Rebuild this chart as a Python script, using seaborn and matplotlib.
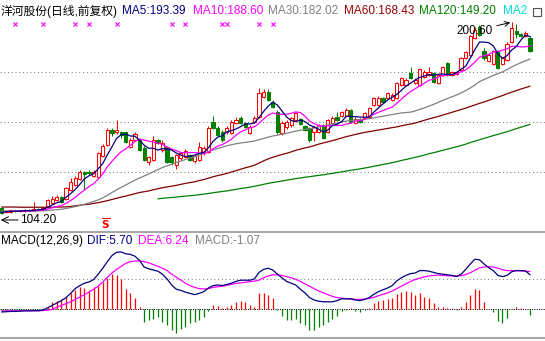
import numpy as np
import matplotlib
matplotlib.use("Agg")
import matplotlib.pyplot as plt
import seaborn as sns
from matplotlib.patches import Rectangle
from matplotlib import transforms

sns.set_theme(style="white")
plt.rcParams['font.family'] = ['Liberation Sans', 'Noto Sans CJK SC', 'DejaVu Sans']

# ---- daily bars (forward-adjusted) ----
opens = [107.1, 105.3, 105.4, 106.0, 105.5, 105.8, 106.2, 105.9, 106.8, 106.5,
         108.2, 109.7, 111.0, 112.7, 111.7, 116.3, 118.8, 121.8, 125.3, 125.3,
         123.3, 122.8, 133.4, 138.9, 146.4, 145.4, 145.4, 145.4, 137.9, 141.4,
         141.4, 137.4, 130.3, 131.3, 141.4, 136.4, 137.9, 132.8, 128.8, 132.3,
         132.8, 133.8, 130.8, 131.3, 134.9, 135.4, 150.4, 147.4, 145.4, 145.4,
         144.9, 149.9, 152.4, 149.9, 144.9, 150.4, 152.9, 162.9, 165.4, 160.4,
         155.4, 144.9, 147.9, 148.9, 151.4, 151.9, 148.4, 147.4, 145.4, 145.4,
         148.9, 145.4, 149.9, 152.9, 153.4, 153.4, 156.4, 150.0, 151.9, 152.4,
         152.9, 158.9, 158.9, 162.4, 162.4, 161.4, 162.4, 168.9, 168.9, 174.9,
         169.9, 168.9, 172.9, 173.9, 174.9, 169.9, 173.9, 179.9, 173.9, 174.4,
         176.4, 182.4, 183.9, 192.4, 198.4, 185.9, 180.9, 179.4, 185.9, 179.4,
         181.4, 190.4, 196.4, 194.9, 193.9, 192.6]
highs = [107.5, 106.3, 106.2, 106.4, 106.3, 106.5, 106.6, 110.2, 107.2, 107.6,
         111.6, 113.0, 113.5, 113.2, 117.9, 122.3, 123.3, 126.3, 125.8, 126.3,
         126.3, 135.4, 139.4, 147.4, 147.4, 151.4, 145.9, 145.9, 142.4, 145.4,
         142.4, 138.4, 133.3, 143.4, 141.9, 141.4, 138.4, 133.3, 134.4, 135.4,
         136.9, 134.4, 134.4, 140.4, 138.4, 148.4, 153.4, 148.4, 146.4, 148.4,
         151.4, 152.9, 153.4, 150.4, 148.9, 153.4, 167.4, 166.9, 166.9, 161.4,
         156.4, 150.9, 151.4, 152.9, 155.4, 152.4, 148.9, 147.9, 148.4, 149.4,
         149.4, 151.9, 153.4, 155.4, 155.9, 157.4, 156.9, 152.9, 152.4, 155.4,
         157.9, 162.9, 163.4, 162.9, 165.4, 164.9, 170.4, 172.9, 172.4, 177.9,
         172.4, 177.4, 176.4, 177.9, 175.4, 174.4, 178.4, 180.4, 175.9, 175.9,
         182.9, 185.9, 194.4, 198.4, 199.4, 187.4, 184.4, 186.4, 186.4, 182.9,
         190.4, 200.6, 199.9, 195.4, 196.4, 193.4]
lows = [104.2, 104.8, 104.9, 105.1, 105.2, 105.4, 105.6, 105.7, 106.2, 106.2,
        107.8, 109.4, 110.6, 109.8, 111.3, 116.0, 118.5, 121.5, 116.3, 124.0,
        123.0, 122.5, 132.9, 138.4, 143.4, 144.4, 142.4, 139.9, 137.4, 140.9,
        135.9, 130.8, 128.8, 130.8, 139.4, 135.4, 129.8, 128.8, 126.8, 131.3,
        132.3, 130.8, 129.8, 130.8, 133.8, 134.9, 146.9, 143.4, 140.4, 144.4,
        144.4, 149.4, 149.4, 147.4, 144.4, 149.9, 152.4, 162.4, 160.9, 157.4,
        144.4, 143.9, 146.9, 147.9, 150.9, 148.9, 145.9, 140.4, 140.9, 144.9,
        141.9, 144.9, 149.4, 150.9, 152.9, 152.9, 149.9, 149.4, 149.9, 151.9,
        152.4, 158.4, 158.4, 159.9, 161.9, 160.9, 161.9, 168.4, 168.4, 171.9,
        169.4, 168.4, 172.4, 173.4, 169.9, 169.4, 173.4, 173.4, 173.4, 173.9,
        175.9, 181.9, 183.4, 191.9, 193.4, 181.4, 180.4, 178.9, 176.9, 178.9,
        180.9, 189.9, 192.6, 193.1, 193.1, 185.6]
closes = [104.9, 105.8, 106.0, 105.5, 106.0, 106.2, 105.9, 106.8, 106.5, 107.3,
          111.2, 111.7, 112.6, 110.2, 117.3, 120.3, 122.3, 125.3, 124.3, 124.8,
          125.3, 134.9, 138.4, 146.4, 144.9, 146.4, 143.9, 140.4, 141.4, 144.4,
          136.4, 131.3, 132.8, 141.4, 139.9, 139.9, 130.3, 130.3, 133.8, 134.9,
          135.9, 131.3, 133.3, 137.9, 137.4, 147.4, 147.4, 143.9, 141.4, 147.4,
          150.4, 151.4, 149.9, 147.9, 147.9, 152.4, 164.9, 165.4, 161.4, 157.9,
          145.4, 149.9, 150.4, 152.4, 154.9, 149.4, 146.4, 141.4, 147.9, 148.9,
          142.4, 151.4, 152.4, 151.4, 155.4, 156.4, 150.4, 151.9, 150.4, 154.9,
          157.4, 162.4, 162.4, 160.4, 164.9, 163.9, 169.9, 172.4, 171.4, 172.4,
          171.4, 176.9, 175.4, 175.4, 170.4, 173.9, 177.9, 173.9, 175.4, 175.4,
          182.4, 185.4, 193.9, 196.9, 194.4, 182.4, 183.9, 185.9, 177.4, 182.4,
          189.45, 197.75, 194.6, 193.6, 195.0, 185.99]

# ---- long moving averages ----
ma30 = [105.7, 105.7, 105.7, 105.7, 105.7, 105.7, 105.7, 105.7, 105.8, 105.8,
        106.0, 106.2, 106.4, 106.6, 107.0, 107.4, 107.9, 108.5, 109.1, 109.8,
        110.5, 111.3, 112.3, 113.6, 115.0, 116.3, 117.6, 118.8, 120.0, 121.2,
        122.3, 123.3, 124.3, 125.5, 126.5, 127.6, 128.4, 129.2, 130.0, 130.8,
        131.6, 132.3, 133.0, 133.8, 134.7, 135.6, 136.4, 137.1, 137.8, 138.5,
        139.0, 139.5, 139.9, 140.2, 140.5, 140.9, 141.5, 142.2, 142.8, 143.4,
        143.8, 144.3, 144.8, 145.3, 145.8, 146.3, 146.7, 147.0, 147.4, 147.9,
        148.4, 148.9, 149.4, 149.9, 150.5, 150.9, 151.2, 151.4, 151.6, 151.8,
        152.1, 152.5, 152.9, 153.3, 153.8, 154.2, 154.6, 155.0, 155.2, 155.4,
        156.0, 156.8, 157.5, 158.4, 159.3, 160.3, 161.3, 162.2, 163.1, 164.0,
        165.0, 166.2, 167.5, 169.0, 170.7, 171.8, 172.8, 173.8, 174.7, 175.6,
        176.8, 178.1, 179.2, 180.2, 181.2, 182.02]
ma60 = [107.7, 107.7, 107.7, 107.7, 107.6, 107.6, 107.6, 107.6, 107.6, 107.6,
        107.6, 107.6, 107.7, 107.7, 107.8, 108.0, 108.3, 108.6, 108.9, 109.1,
        109.5, 109.9, 110.4, 110.9, 111.5, 112.1, 112.7, 113.2, 113.8, 114.4,
        115.0, 115.4, 115.8, 116.4, 116.9, 117.4, 117.8, 118.2, 118.6, 119.1,
        119.6, 120.0, 120.4, 121.0, 121.5, 122.2, 122.9, 123.5, 124.0, 124.6,
        125.3, 126.0, 126.7, 127.4, 128.0, 128.7, 129.8, 130.9, 131.9, 132.7,
        133.4, 134.1, 134.7, 135.4, 136.2, 136.8, 137.4, 137.9, 138.6, 139.3,
        139.9, 140.5, 141.1, 141.7, 142.4, 143.1, 143.6, 144.2, 144.7, 145.2,
        145.6, 146.0, 146.4, 146.8, 147.2, 147.6, 148.0, 148.5, 149.0, 149.4,
        149.9, 150.6, 151.3, 152.0, 152.6, 153.2, 153.9, 154.6, 155.3, 156.0,
        156.7, 157.4, 158.2, 159.0, 159.8, 160.5, 161.3, 162.1, 162.9, 163.7,
        164.6, 165.4, 166.2, 167.0, 167.7, 168.43]
ma120 = [np.nan] * 34 + [
        111.8, 112.1, 112.3, 112.5, 112.7, 113.0, 113.2, 113.4, 113.6, 113.9,
        114.2, 114.5, 114.9, 115.2, 115.5, 115.8, 116.2, 116.6, 117.0, 117.3,
        117.7, 118.1, 118.6, 119.1, 119.6, 120.0, 120.4, 120.8, 121.2, 121.6,
        122.0, 122.3, 122.7, 122.9, 123.3, 123.6, 123.9, 124.3, 124.6, 125.0,
        125.4, 125.8, 126.2, 126.5, 126.9, 127.3, 127.7, 128.2, 128.6, 129.1,
        129.5, 130.0, 130.5, 131.1, 131.6, 132.1, 132.7, 133.2, 133.8, 134.5,
        135.0, 135.6, 136.2, 136.8, 137.4, 138.0, 138.6, 139.3, 140.1, 140.8,
        141.5, 142.2, 142.9, 143.6, 144.2, 144.9, 145.5, 146.3, 147.1, 147.8,
        148.5, 149.2]

# ---- MACD(12,26,9) ----
dif = [-0.5, -0.45, -0.4, -0.4, -0.35, -0.3, -0.3, -0.27, -0.27, -0.2,
       0.2, 0.6, 1.0, 1.4, 1.9, 2.6, 3.4, 3.9, 4.3, 4.5,
       4.9, 5.8, 6.8, 7.9, 8.9, 9.45, 9.5, 9.2, 9.1, 8.8,
       8.1, 7.0, 6.7, 6.5, 6.3, 5.8, 5.0, 4.0, 3.3, 3.1,
       2.8, 2.6, 2.4, 2.6, 2.9, 3.5, 3.9, 4.0, 3.9, 4.1,
       4.3, 4.6, 4.8, 4.8, 4.8, 5.0, 6.1, 6.6, 6.8, 6.5,
       5.8, 5.2, 4.6, 4.3, 4.0, 3.3, 2.7, 1.9, 1.5, 1.3,
       1.2, 1.2, 1.2, 1.4, 1.7, 1.7, 1.7, 1.5, 1.4, 1.6,
       1.9, 2.45, 2.9, 3.2, 3.5, 3.9, 4.7, 5.2, 5.6, 5.9,
       6.0, 6.4, 6.4, 6.3, 6.1, 5.9, 5.8, 5.7, 5.6, 5.4,
       5.8, 6.6, 7.5, 8.3, 8.2, 7.5, 6.9, 6.4, 5.6, 5.4,
       5.6, 6.2, 6.4, 6.4, 6.35, 5.70]
dea = [-0.3, -0.3, -0.3, -0.3, -0.3, -0.3, -0.3, -0.3, -0.3, -0.25,
       -0.2, -0.05, 0.3, 0.6, 0.9, 1.2, 1.6, 2.0, 2.4, 2.8,
       3.3, 3.8, 4.5, 5.3, 6.0, 6.6, 7.1, 7.6, 7.9, 8.0,
       8.0, 7.9, 7.7, 7.4, 7.1, 6.8, 6.4, 5.8, 5.3, 4.8,
       4.3, 3.9, 3.6, 3.4, 3.35, 3.4, 3.6, 3.7, 3.8, 3.95,
       4.1, 4.25, 4.35, 4.45, 4.55, 4.65, 4.8, 5.2, 5.5, 5.7,
       5.7, 5.6, 5.4, 5.2, 4.95, 4.6, 4.2, 3.8, 3.4, 3.0,
       2.7, 2.4, 2.1, 1.9, 1.8, 1.7, 1.65, 1.6, 1.6, 1.65,
       1.75, 1.95, 2.2, 2.45, 2.7, 3.0, 3.4, 3.8, 4.2, 4.6,
       4.9, 5.15, 5.35, 5.5, 5.6, 5.65, 5.6, 5.55, 5.5, 5.5,
       5.55, 5.75, 6.05, 6.45, 6.85, 7.0, 7.05, 7.0, 6.8, 6.55,
       6.4, 6.4, 6.4, 6.35, 6.3, 6.24]
macd = [-0.4, -0.3, -0.2, -0.2, -0.1, 0.0, 0.0, 0.05, 0.05, 0.1,
        0.5, 1.1, 1.3, 1.6, 2.05, 2.7, 3.2, 3.6, 3.45, 3.2,
        3.7, 4.0, 4.55, 5.1, 5.8, 5.7, 4.95, 3.3, 2.6, 1.8,
        0.4, -2.1, -1.8, -1.6, -1.4, -2.1, -2.65, -3.5, -4.05, -3.4,
        -2.95, -2.4, -2.1, -1.8, -1.4, -0.4, 0.7, 0.55, 0.2, 0.4,
        0.7, 1.2, 1.4, 1.2, 0.7, 0.4, 2.6, 2.7, 2.3, 1.8,
        -0.2, -1.2, -1.8, -1.8, -1.7, -2.3, -2.7, -3.5, -3.5, -3.05,
        -2.7, -2.1, -1.7, -1.2, -0.3, -0.2, 0.1, -0.4, -0.5, -0.2,
        0.1, 1.0, 1.35, 1.45, 1.6, 1.8, 2.5, 2.9, 3.0, 2.9,
        2.3, 2.7, 2.05, 1.8, 1.0, 0.3, 0.4, 0.2, 0.1, -0.2,
        0.3, 1.2, 2.3, 3.3, 3.2, 1.2, 0.05, -0.5, -1.95, -2.3,
        -1.5, 0.05, 0.3, 0.15, 0.05, -1.07]

signal_bars = [3, 9, 16, 19, 25, 37, 40, 48, 49, 56, 59]

# ---- colours ----
RED = '#FF0000'
GREEN = '#008000'
NAVY = '#000080'
MAGENTA = '#FF00FF'
GRAY = '#808080'
MAROON = '#800000'
CYAN = '#00D8D8'

opens, highs, lows, closes = map(np.asarray, (opens, highs, lows, closes))
n = len(closes)
xs = np.arange(n)
ma5 = np.convolve(closes, np.ones(5) / 5, mode='full')[:n]
ma5[:4] = [closes[:k + 1].mean() for k in range(4)]
ma10 = np.convolve(closes, np.ones(10) / 10, mode='full')[:n]
ma10[:9] = [closes[:k + 1].mean() for k in range(9)]

W, H = 545, 341
fig = plt.figure(figsize=(W / 100, H / 100), dpi=100)
fig.patch.set_facecolor('white')


def panel(y_top, y_bot):
    a = fig.add_axes([0, 1 - y_bot / H, 1, (y_bot - y_top) / H])
    a.set_facecolor('none')
    a.set_axis_off()
    return a


step = 4.594          # pixels per bar
x0 = 1.7              # pixel centre of the first bar
xlim = (-x0 / step, (W - x0) / step)

# ---------------- price panel ----------------
ax = panel(0, 231)
ax.set_xlim(*xlim)
ax.set_ylim(95.66, 211.74)

for lvl in (125.3, 150.4, 175.6):
    ax.axhline(lvl, color=GRAY, lw=0.75, ls=(0, (1, 2.6)), zorder=1)

w = 0.7
for i in range(n):
    o, h, l, c = opens[i], highs[i], lows[i], closes[i]
    if c >= o:
        ax.add_patch(Rectangle((i - w / 2, o), w, max(c - o, 0.05), facecolor='white',
                               edgecolor=RED, lw=0.75, zorder=3))
        ax.vlines(i, c, h, color=RED, lw=0.75, zorder=2)
        ax.vlines(i, l, o, color=RED, lw=0.75, zorder=2)
    else:
        ax.vlines(i, l, h, color=GREEN, lw=0.75, zorder=2)
        ax.add_patch(Rectangle((i - w / 2, c), w, o - c, facecolor=GREEN,
                               edgecolor=GREEN, lw=0.75, zorder=3))

for vals, col in ((ma120, GREEN), (ma60, MAROON), (ma30, GRAY), (ma10, MAGENTA), (ma5, NAVY)):
    sns.lineplot(x=xs, y=np.asarray(vals, dtype=float), ax=ax, color=col, lw=0.9,
                 legend=False, zorder=4)
ax.set_xlim(*xlim)
ax.set_ylim(95.66, 211.74)
ax.set_axis_off()

# signal crosses along the top of the panel
top = transforms.blended_transform_factory(ax.transData, ax.transAxes)
ax.scatter(signal_bars, [0.896] * len(signal_bars), marker='x', s=9, lw=0.8,
           color=MAGENTA, transform=top, zorder=5)

# highest / lowest price markers
hi = int(np.argmax(highs))
lo = int(np.argmin(lows))
ax.annotate(f"{highs[hi]:.2f}", xy=(hi, highs[hi]), xytext=(-14, -6.5),
            textcoords='offset points', ha='right', va='center', fontsize=8.5,
            color='black', zorder=6,
            arrowprops=dict(arrowstyle='->', color='black', lw=0.7,
                            shrinkA=1, shrinkB=1))
low_row = transforms.offset_copy(ax.transData, fig=fig, x=0, y=-4.3, units='points')
ax.annotate('', xy=(lo - 0.2, lows[lo]), xycoords=low_row, xytext=(12.5, 0),
            textcoords='offset points',
            arrowprops=dict(arrowstyle='->', color='black', lw=0.7,
                            shrinkA=0, shrinkB=0))
ax.annotate(f"{lows[lo]:.2f}", xy=(lo, lows[lo]), xycoords=low_row, xytext=(13.5, 0),
            textcoords='offset points', ha='left', va='center', fontsize=8.5,
            color='black', zorder=6)
ax.text(22.6, 0.03, r'$\mathbf{\overline{S}}$', transform=top, color=RED, fontsize=7.5,
        ha='center', va='center', zorder=6)

# ---------------- MACD panel ----------------
axm = panel(232, 338)
axm.set_xlim(*xlim)
axm.set_ylim(-4.83, 12.83)
axm.axhline(5.0, color=GRAY, lw=0.75, ls=(0, (1, 2.6)), zorder=1)
axm.axhline(0.0, color='black', lw=0.75, ls=(0, (1, 1.2)), zorder=1)
mv = np.asarray(macd)
axm.vlines(xs[mv >= 0], 0, mv[mv >= 0], color=RED, lw=0.9, zorder=2)
axm.vlines(xs[mv < 0], 0, mv[mv < 0], color=GREEN, lw=0.9, zorder=2)
sns.lineplot(x=xs, y=np.asarray(dea), ax=axm, color=MAGENTA, lw=0.9, legend=False, zorder=3)
sns.lineplot(x=xs, y=np.asarray(dif), ax=axm, color=NAVY, lw=0.9, legend=False, zorder=4)
axm.set_xlim(*xlim)
axm.set_ylim(-4.83, 12.83)
axm.set_axis_off()

# panel separators
for yy in (231.5, 338):
    fig.add_artist(plt.Line2D([0, 1], [1 - yy / H] * 2, transform=fig.transFigure,
                              color='#8c8c8c', lw=1.1))

# ---------------- header texts ----------------
def label(xp, yp, s, col):
    fig.text(xp / W, 1 - yp / H, s, color=col, fontsize=8.5, ha='left', va='center')


label(1, 11, '洋河股份(日线,前复权)', 'black')
label(122, 11, f"MA5:{ma5[-1]:.2f}", NAVY)
label(193, 11, f"MA10:{ma10[-1]:.2f}", MAGENTA)
label(268, 11, f"MA30:{ma30[-1]:.2f}", GRAY)
label(344, 11, f"MA60:{ma60[-1]:.2f}", '#990000')
label(419, 11, f"MA120:{ma120[-1]:.2f}", GREEN)
label(503, 11, 'MA2', CYAN)
fig.add_artist(Rectangle((533 / W, 1 - 16 / H), 8 / W, 8 / H, transform=fig.transFigure,
                         fill=False, edgecolor='#505050', lw=0.8))

label(1, 241, 'MACD(12,26,9)', 'black')
label(87, 241, f"DIF:{dif[-1]:.2f}", NAVY)
label(138, 241, f"DEA:{dea[-1]:.2f}", MAGENTA)
label(195, 241, f"MACD:{macd[-1]:.2f}", GRAY)

fig.savefig('out.png', dpi=100, facecolor='white')
